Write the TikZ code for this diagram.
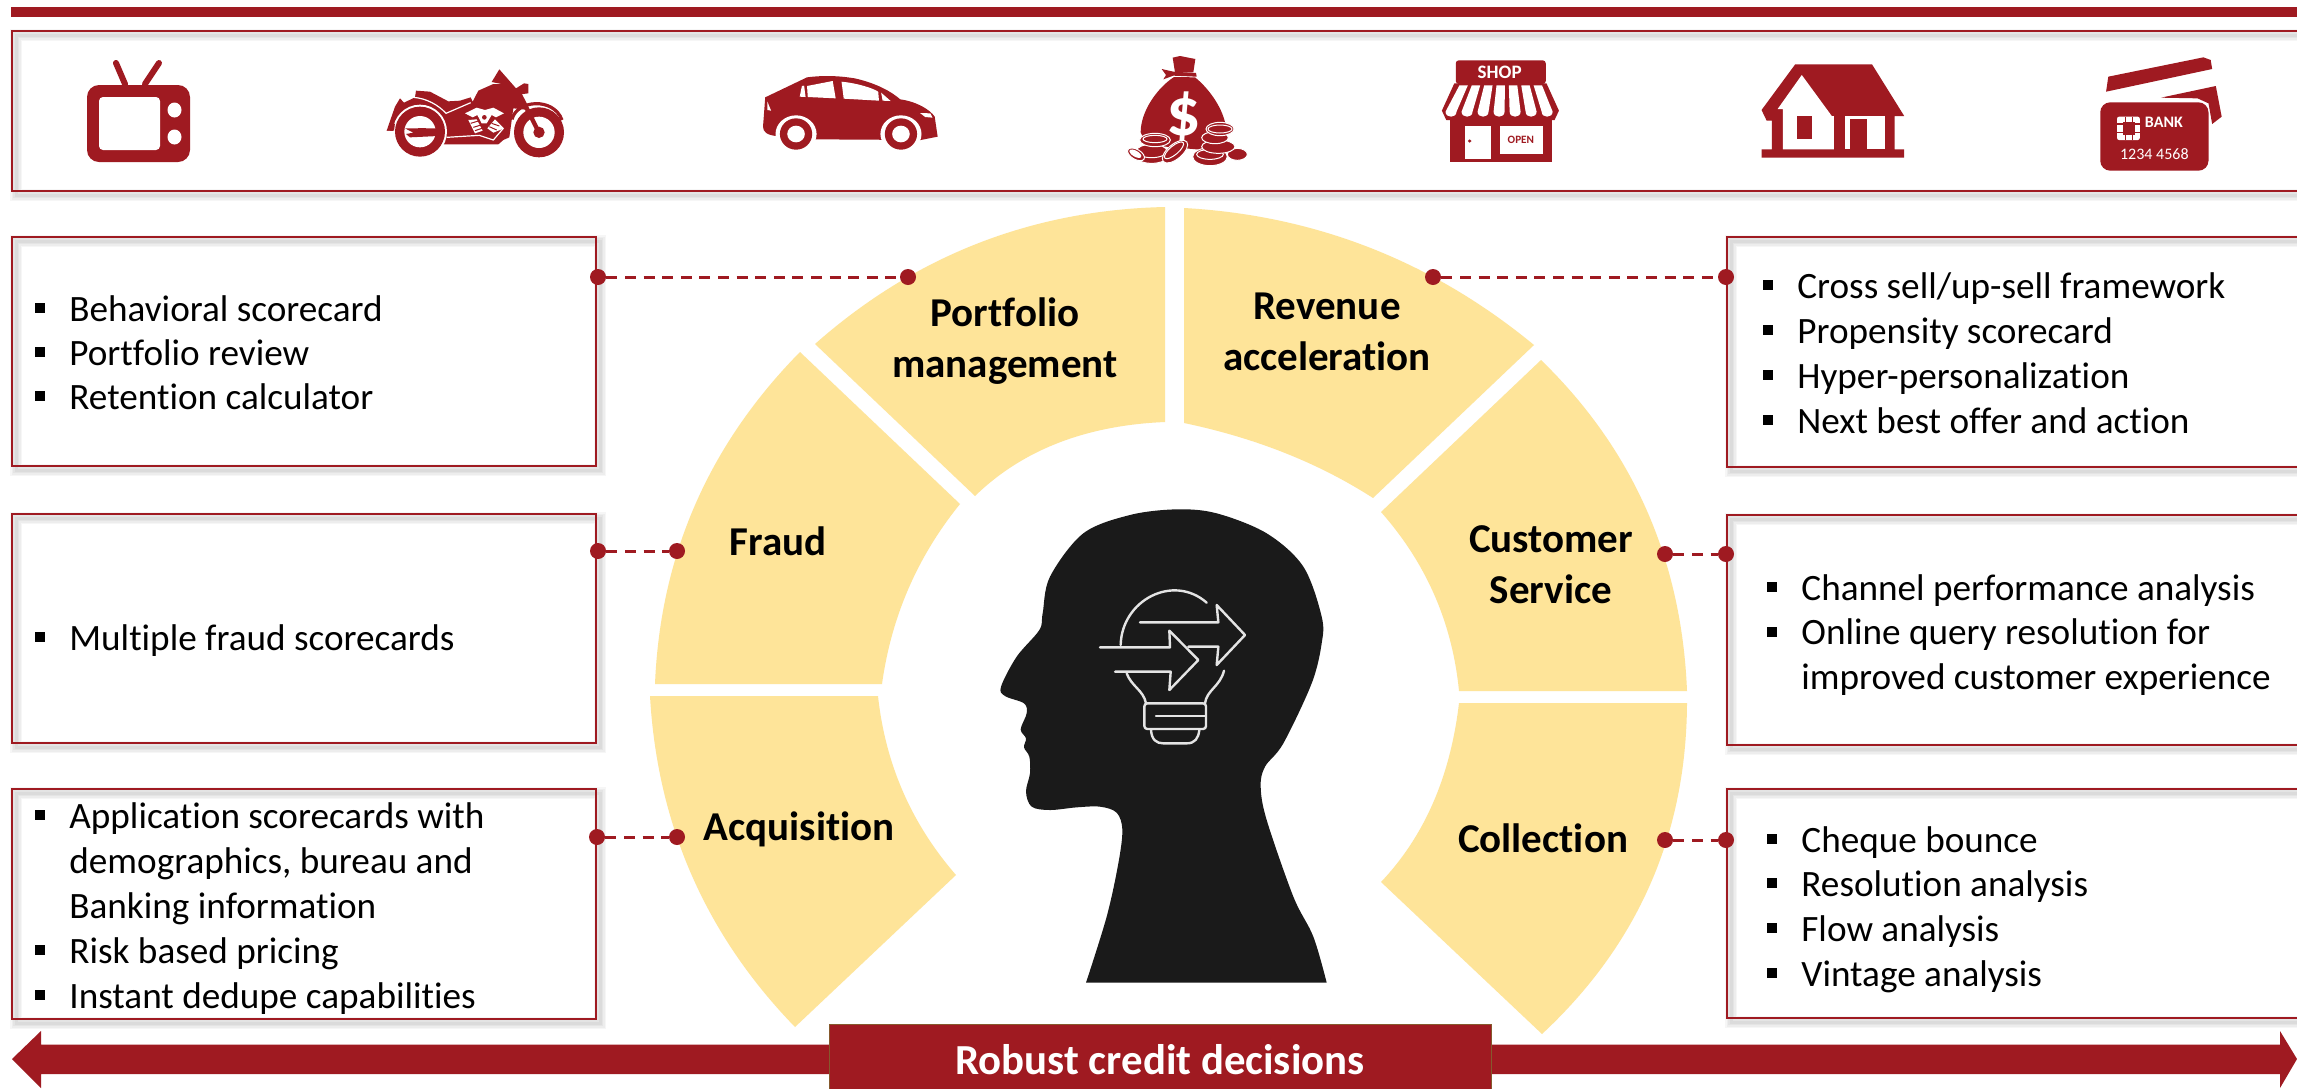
\documentclass[tikz,border=0pt]{standalone}
\usepackage{fontspec}
\setmainfont{Carlito}[Ligatures=NoCommon]
\usetikzlibrary{calc}
\definecolor{brick}{HTML}{9F1A21}
\definecolor{sand}{HTML}{FEE499}
\definecolor{inkhead}{HTML}{1A1A1A}
\definecolor{bulbline}{HTML}{E4E4E4}
\tikzset{
  panelline/.style={draw=brick,line width=1.3pt},
  softline/.style={draw=black,opacity=.035},
  petal/.style={fill=sand,draw=none},
  itemtext/.style={anchor=base west,inner sep=0pt,align=left,font=\fontsize{18.6}{22.4}\selectfont,text=black},
  sqbullet/.style={fill=black,inner sep=0pt,minimum size=5.4pt,shape=rectangle},
  petaltext/.style={anchor=base,inner sep=0pt,align=center,font=\fontsize{20.5}{25.4}\selectfont\bfseries,text=black},
  linkdot/.style={circle,fill=brick,inner sep=0pt,minimum size=8pt},
  linkline/.style={draw=brick,line width=1.5pt,dash pattern=on 5.5pt off 3.8pt},
  iconfill/.style={fill=brick,draw=none},
  blank/.style={fill=white,draw=none},
  coin/.style={fill=brick,draw=white,line width=.5pt},
  bulbstroke/.style={draw=bulbline,line width=1.2pt,line cap=round,line join=round},
}
\newcommand{\panelbox}[4]{%
  \foreach \w in {6,4.5,3,1.5}{\draw[softline,line width=\w pt] ($(#1,#2)+(4,4)$) rectangle ($(#3,#4)+(4,4)$);}
  \draw[panelline] (#1,#2) rectangle (#3,#4);}
% #3 = baseline of the first line, #4 = baseline of the last line
\newcommand{\wrappeditem}[5]{%
  \node[sqbullet] (#1b) at ($(#2,#3)+(-29,-13)$) {};
  \node[itemtext] (#1) at (#2,#4) {#5};}
\newcommand{\listitem}[4]{\wrappeditem{#1}{#2}{#3}{#3}{#4}}
\newcommand{\qcurve}[3]{.. controls ($(#1)!.6667!(#2)$) and ($(#3)!.6667!(#2)$) .. (#3)}
\begin{document}
\begin{tikzpicture}[x=.5pt,y=-.5pt]
\clip (0,0) rectangle (2297,1088);
\fill[white] (0,0) rectangle (2297,1088);
% top rule and icon band
\fill[brick] (11,7) rectangle (2297,17);
\panelbox{12}{31}{2320}{191}

% TV
\fill[iconfill,rounded corners=6pt] (87,85) rectangle (190,162);
\fill[blank,rounded corners=2pt] (99,97) rectangle (160,150);
\fill[blank] (174.5,110) circle[x radius=7,y radius=7.5];
\fill[blank] (174.5,137) circle[x radius=7,y radius=7.5];
\draw[brick,line width=3pt,line cap=round] (125,84) -- (116,63);
\draw[brick,line width=3pt,line cap=round] (145,84) -- (159,63);

% motorcycle
\begin{scope}[shift={(380,60)},x=.16667pt,y=-.16667pt]
  \fill[iconfill] (20,212) -- (45,140) -- (60,115) -- (72,128) -- (105,112) -- (108,92) -- (150,95) -- (205,124) -- (240,122) -- (272,112) -- (278,125) -- (295,92) -- (340,72) -- (365,72) -- (335,66) -- (358,28) -- (408,85) -- (432,70) -- (445,72) -- (445,100) -- (422,103) -- (445,150) -- (400,145) -- (388,232) -- (370,240) -- (355,253) -- (190,253) -- (170,215) -- cycle;
  \draw[white,line width=.6pt] (100,112) .. controls (140,115) and (175,135) .. (198,160) -- (272,128);
  \fill[blank] (120,215) circle[radius=81];
  \fill[iconfill] (120,215) circle[radius=75];
  \fill[blank] (120,215) circle[radius=47];
  \fill[iconfill] (75,205) -- (175,205) -- (175,228) -- (90,232) -- (78,222) -- (100,218) -- cycle;
  \fill[iconfill] (115,205) rectangle (138,228);
  \draw[white,line width=.6pt] (200,232) -- (298,226) -- (340,240) -- (370,205);
  \fill[iconfill] (20,212) -- (45,190) -- (42,212) -- cycle;
  \fill[iconfill] (477,217) circle[radius=75];
  \fill[blank] (477,217) circle[radius=47];
  \fill[iconfill] (477,217) circle[radius=17];
  \draw[brick,line width=2.2pt] (415,95) -- (474,212);
  \draw[brick,line width=1.6pt] (396,178) .. controls (410,120) and (520,110) .. (546,180);
  \fill[blank] (255,160) -- (290,143) -- (315,150) -- (340,143) -- (372,160) -- (348,172) -- (335,165) -- (320,190) -- (305,190) -- (292,165) -- (278,172) -- cycle;
  \fill[iconfill] (313,172) circle[radius=7];
  \fill[blank] (265,180) -- (290,178) -- (308,212) -- (285,220) -- cycle;
  \fill[blank] (345,178) -- (372,205) -- (340,218) -- (322,205) -- cycle;
  \draw[brick,line width=.5pt] (272,190) -- (298,182) (280,202) -- (303,195) (285,212) -- (306,205) (335,190) -- (358,198) (328,200) -- (350,210);
\end{scope}

% car
\begin{scope}[x=.36684pt,y=-.16667pt]
  \fill[iconfill] (1043,292) -- (1100,232) .. controls (1125,225) and (1145,228) .. (1165,235) .. controls (1195,250) and (1215,275) .. (1227,298) .. controls (1250,305) and (1268,330) .. (1274,350) -- (1278,410) -- (1255,420) -- (1110,418) -- (1058,408) .. controls (1045,405) and (1040,395) .. (1040,380) -- cycle;
  \fill[blank] (1100,258) -- (1135,243) -- (1139,295) -- (1101,291) -- cycle;
  \fill[blank] (1147,245) .. controls (1170,250) and (1190,265) .. (1197,275) -- (1198,302) -- (1150,296) -- cycle;
  \fill[blank] (1201,278) -- (1214,303) -- (1203,302) -- cycle;
  \fill[blank] (1093,258) -- (1090,290) -- (1098,291) -- (1096,257) -- cycle;
  \fill[blank] (1254,339) -- (1268,340) -- (1271,353) -- (1261,351) -- cycle;
  \fill[blank] (1046,305) -- (1051,332) -- (1046,330) -- cycle;
  \foreach \cx in {1085,1228}{
    \fill[blank] (\cx,402) circle[x radius=28,y radius=56];
    \fill[iconfill] (\cx,402) circle[x radius=22,y radius=47];
    \fill[blank] (\cx,402) circle[x radius=12,y radius=25];
  }
\end{scope}

% money bag
\begin{scope}[shift={(1110,45)},x=.16667pt,y=-.16667pt]
  \fill[iconfill] (188,38) -- (210,33) -- (256,42) -- (250,82) -- (195,82) -- cycle;
  \fill[iconfill] (155,72) -- (190,80) -- (258,84) -- (260,95) -- (190,92) -- (160,103) -- (168,90) -- cycle;
  \fill[iconfill] (192,96) -- (255,97) .. controls (290,125) and (335,180) .. (347,240) -- (340,320) -- (110,300) -- (92,262) .. controls (92,200) and (140,130) .. (192,96) -- cycle;
  \node[inner sep=0pt,text=white,font=\fontsize{34}{34}\selectfont\bfseries] (bagsign) at (221,218) {\$};
  \draw[coin] (330,340) ellipse[x radius=10,y radius=4];
  \filldraw[coin] (382,328) ellipse[x radius=30,y radius=18];
  \filldraw[coin] (300,335) ellipse[x radius=52,y radius=27];
  \draw[white,line width=.5pt] (300,328) ellipse[x radius=40,y radius=15];
  \filldraw[coin] (325,305) ellipse[x radius=50,y radius=20];
  \filldraw[coin] (315,278) ellipse[x radius=40,y radius=18];
  \filldraw[coin] (330,252) ellipse[x radius=42,y radius=20];
  \draw[white,line width=.5pt] (330,252) ellipse[x radius=36,y radius=12];
  \filldraw[coin] (125,340) ellipse[x radius=42,y radius=15];
  \filldraw[coin] (125,318) ellipse[x radius=46,y radius=20];
  \filldraw[coin] (135,285) ellipse[x radius=46,y radius=20];
  \draw[white,line width=.5pt] (135,282) ellipse[x radius=36,y radius=11];
  \filldraw[coin,rotate around={40:(195,320)}] (195,320) ellipse[x radius=46,y radius=22];
  \draw[white,line width=.5pt,rotate around={40:(192,316)}] (192,316) ellipse[x radius=36,y radius=13];
  \filldraw[coin,rotate around={-30:(78,328)}] (78,328) ellipse[x radius=28,y radius=15];
  \fill[blank,rotate around={-30:(76,326)}] (76,326) ellipse[x radius=20,y radius=9];
\end{scope}

% shop, house, card
\begin{scope}[shift={(1150,0)},x=.36576pt,y=-.16667pt]
  \fill[iconfill,rounded corners=1.5pt] (418,181) rectangle (541,252);
  \node[inner sep=0pt,text=white,font=\fontsize{9.5}{10}\selectfont\bfseries] (shopword) at (478,218) {SHOP};
  \fill[iconfill] (416,250) -- (542,250) -- (559,332) -- (553,360) -- (405,360) -- (399,332) -- cycle;
  \foreach \i in {0,...,6}{
    \pgfmathsetmacro{\xt}{423+16.9*\i}
    \pgfmathsetmacro{\xb}{404+21.9*\i}
    \fill[blank] (\xt,256) -- (\xt+11.5,256) -- (\xb+15,335) .. controls (\xb+15,355) and (\xb,355) .. (\xb,335) -- cycle;
  }
  \fill[iconfill] (410,358) rectangle (550,487);
  \fill[blank] (431,377) rectangle (466,477);
  \fill[iconfill] (437,423) circle[x radius=2.5,y radius=5];
  \fill[blank] (478,377) rectangle (537,463);
  \node[inner sep=0pt,text=brick,font=\fontsize{5.6}{6}\selectfont\bfseries] (openword) at (507,420) {OPEN};
  \fill[iconfill] (882,193) -- (987,193) -- (1031,348) -- (1018,348) -- (1018,448) -- (1031,448) -- (1031,473) -- (836,473) -- (836,448) -- (850,448) -- (850,362) -- (843,362) -- (836,330) -- cycle;
  \fill[blank] (891,225) -- (932,348) -- (935,348) -- (935,448) -- (865,448) -- (865,327) -- (858,327) -- cycle;
  \fill[iconfill] (885,348) rectangle (905,418);
  \fill[blank] (950,348) rectangle (1005,448);
  \fill[iconfill] (957,358) rectangle (980,448);
  \fill[iconfill] (1310,230) -- (1440,172) -- (1450,180) -- (1452,207) -- (1307,275) -- cycle;
  \fill[iconfill] (1382,293) -- (1457,258) -- (1465,350) -- (1452,372) -- (1447,310) -- (1432,295) -- cycle;
  \fill[iconfill,rounded corners=5pt] (1299,307) rectangle (1447,512);
  \fill[blank,rounded corners=1pt] (1322,350) rectangle (1353,420);
  \draw[brick,line width=.6pt] (1333,350) -- (1333,420) (1343,350) -- (1343,420) (1322,372) -- (1353,372) (1322,398) -- (1353,398);
  \fill[iconfill] (1330,365) rectangle (1346,405);
  \node[inner sep=0pt,text=white,font=\fontsize{8}{8}\selectfont\bfseries] (bankword) at (1386,367) {BANK};
  \node[inner sep=0pt,text=white,font=\fontsize{8}{8}\selectfont] (cardnumber) at (1373,463) {1234 4568};
\end{scope}

% side panels
\panelbox{12}{237}{596}{466}
\panelbox{12}{514}{596}{743}
\panelbox{12}{789}{596}{1019}
\panelbox{1727}{237}{2320}{467}
\panelbox{1727}{515}{2320}{745}
\panelbox{1727}{789}{2320}{1018}

% petals
\path[petal] (1165,207) \qcurve{1165,207}{965,211.5}{815,344} -- (975,496) \qcurve{975,496}{1046,427}{1165,422} -- cycle;
\path[petal] (800,352) \qcurve{800,352}{663,491}{655,684} -- (882,684) \qcurve{882,684}{896,583}{960,504} -- cycle;
\path[petal] (650,696) \qcurve{650,696}{661,889}{795,1027} -- (956,875) \qcurve{956,875}{889,798}{878,696} -- cycle;
\path[petal] (1184,208) \qcurve{1184,208}{1381,219}{1534,345} -- (1373,498) \qcurve{1373,498}{1291.5,445.5}{1184,423} -- cycle;
\path[petal] (1541,360) \qcurve{1541,360}{1679,494}{1687,691} -- (1459,691) \qcurve{1459,691}{1449,589}{1381,512} -- cycle;
\path[petal] (1687,703) \qcurve{1687,703}{1686,900}{1542,1034} -- (1381,882) \qcurve{1381,882}{1446,813.5}{1459,703} -- cycle;

% petal labels (the anchor is the baseline of the last line)
\node[petaltext] (portfolio) at (1005,377) {Portfolio\\management};
\node[petaltext] (fraud) at (778,555) {Fraud};
\node[petaltext] (acquisition) at (799,840) {Acquisition};
\node[petaltext] (revenue) at (1327,370) {Revenue\\acceleration};
\node[petaltext] (customer) at (1551,603) {Customer\\Service};
\node[petaltext] (collection) at (1543,852) {Collection};

% list texts
\listitem{a1}{69}{321}{Behavioral scorecard}
\listitem{a2}{69}{365}{Portfolio review}
\listitem{a3}{69}{409}{Retention calculator}
\listitem{b1}{69}{650}{Multiple fraud scorecards}
\wrappeditem{c1}{69}{828}{918}{Application scorecards with\\demographics, bureau and\\Banking information}
\listitem{c2}{69}{963}{Risk based pricing}
\listitem{c3}{69}{1008}{Instant dedupe capabilities}
\listitem{d1}{1797}{298}{Cross sell/up-sell framework}
\listitem{d2}{1797}{343}{Propensity scorecard}
\listitem{d3}{1797}{388}{Hyper-personalization}
\listitem{d4}{1797}{433}{Next best offer and action}
\listitem{e1}{1801}{600}{Channel performance analysis}
\wrappeditem{e2}{1801}{645}{689}{Online query resolution for\\improved customer experience}
\listitem{f1}{1801}{852}{Cheque bounce}
\listitem{f2}{1801}{896}{Resolution analysis}
\listitem{f3}{1801}{941}{Flow analysis}
\listitem{f4}{1801}{986}{Vintage analysis}

% connector dots and dashes
\node[linkdot] (lp) at (598,277) {};
\node[linkdot] (rp) at (908,277) {};
\node[linkdot] (lf) at (598,551) {};
\node[linkdot] (rf) at (677,551) {};
\node[linkdot] (la) at (597,837) {};
\node[linkdot] (ra) at (677,837) {};
\node[linkdot] (lr) at (1433,277) {};
\node[linkdot] (rr) at (1726,277) {};
\node[linkdot] (lc) at (1665,554) {};
\node[linkdot] (rc) at (1726,554) {};
\node[linkdot] (lk) at (1665,840) {};
\node[linkdot] (rk) at (1726,840) {};
\draw[linkline] (lp) -- (rp);
\draw[linkline] (lf) -- (rf);
\draw[linkline] (la) -- (ra);
\draw[linkline] (lr) -- (rr);
\draw[linkline] (lc) -- (rc);
\draw[linkline] (lk) -- (rk);

% head
\begin{scope}[shift={(950,490)},x=.16667pt,y=-.16667pt]
  \fill[inkhead] plot[smooth,tension=.55] coordinates {(408,1478) (470,1280) (505,1120) (517,1020) (500,968) (450,950) (380,952) (300,960) (245,950) (228,905) (240,850) (238,800) (222,772) (228,745) (212,718) (230,670) (222,640) (165,618) (153,590) (200,500) (268,420) (278,370) (300,260) (400,130) (540,75) (680,58) (800,70) (950,130) (1060,230) (1115,380) (1115,460) (1085,580) (1000,760) (945,830) (932,890) (950,990) (1030,1220) (1090,1340) (1130,1478)} -- cycle;
  \draw[bulbstroke] (570,397) -- (805,397) -- (800,345) -- (885,435) -- (800,525) -- (805,470) -- (715,470);
  \draw[bulbstroke] (450,472) -- (660,472) -- (658,422) -- (745,510) -- (658,600) -- (662,545) -- (495,545);
  \draw[bulbstroke] (512,465) .. controls (515,330) and (670,250) .. (770,338);
  \draw[bulbstroke] (530,550) .. controls (545,590) and (580,600) .. (588,640);
  \draw[bulbstroke] (822,542) .. controls (810,590) and (770,600) .. (765,640);
  \draw[bulbstroke,rounded corners=1.5pt] (583,640) -- (768,640) -- (768,717) -- (583,717) -- cycle;
  \draw[bulbstroke] (618,678) -- (768,678);
  \draw[bulbstroke] (603,720) .. controls (605,750) and (620,760) .. (640,760) -- (710,760) .. controls (735,760) and (745,745) .. (748,720);
\end{scope}

% double arrow and banner
\fill[brick] (12,1059) -- (41,1031) -- (41,1044.5) -- (2280,1044.5) -- (2280,1031) -- (2297,1059) -- (2280,1088) -- (2280,1074) -- (41,1074) -- (41,1088) -- cycle;
\draw[fill=brick,draw=brown!70!black,line width=.5pt] (829,1024.5) rectangle (1491,1100);
\node[anchor=base,inner sep=0pt,text=white,font=\fontsize{21.4}{22}\selectfont\bfseries] (bannertext) at (1160,1074) {Robust credit decisions};
\end{tikzpicture}
\end{document}
